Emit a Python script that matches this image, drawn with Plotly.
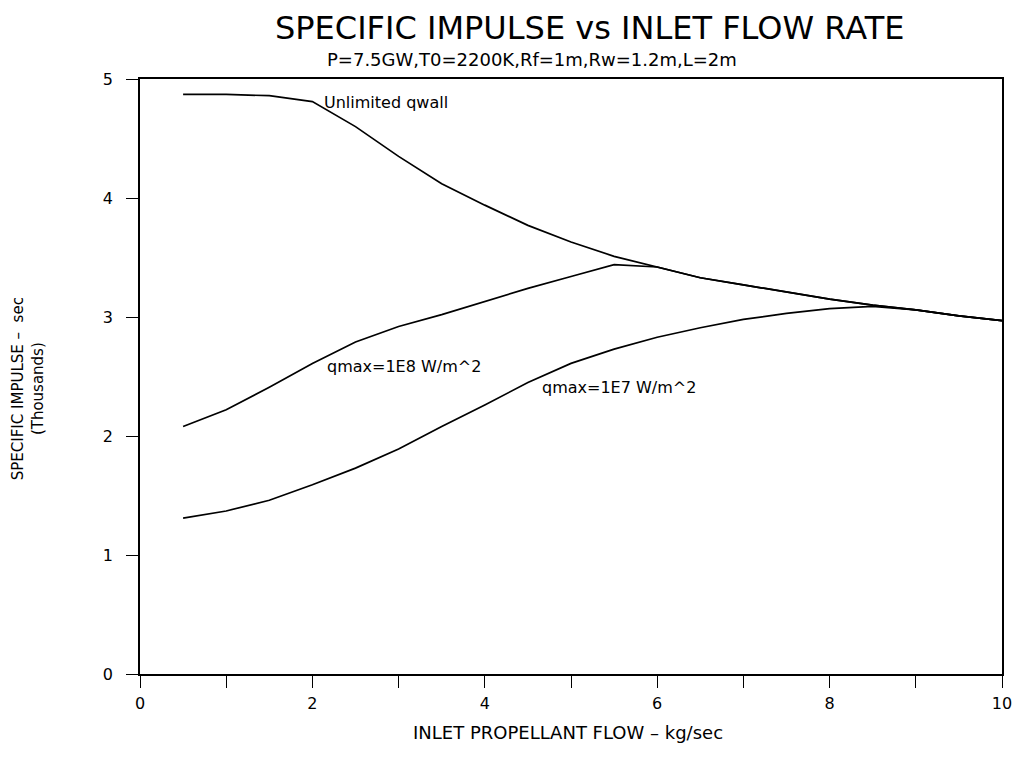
import plotly.graph_objects as go

# Data
flow = [0.5, 1.0, 1.5, 2.0, 2.5, 3.0, 3.5, 4.0, 4.5, 5.0, 5.5, 6.0, 6.5, 7.0, 7.5, 8.0, 8.5, 9.0, 9.5, 10.0]
isp_unlimited = [4.87, 4.87, 4.86, 4.81, 4.60, 4.35, 4.12, 3.94, 3.77, 3.63, 3.51, 3.42, 3.33, 3.27, 3.21, 3.15, 3.10, 3.06, 3.01, 2.97]
isp_q1e8 = [2.08, 2.22, 2.41, 2.61, 2.79, 2.92, 3.02, 3.13, 3.24, 3.34, 3.44, 3.42, 3.33, 3.27, 3.21, 3.15, 3.10, 3.06, 3.01, 2.97]
isp_q1e7 = [1.31, 1.37, 1.46, 1.59, 1.73, 1.89, 2.08, 2.26, 2.45, 2.61, 2.73, 2.83, 2.91, 2.98, 3.03, 3.07, 3.09, 3.06, 3.01, 2.97]

series_names = ["Unlimited qwall", "qmax=1E8 W/m^2", "qmax=1E7 W/m^2"]
label_x = [2.11, 2.15, 4.64]
label_y = [4.80, 2.58, 2.41]

x_tickvals = [0, 1, 2, 3, 4, 5, 6, 7, 8, 9, 10]
x_ticktext = ["0", "", "2", "", "4", "", "6", "", "8", "", "10"]
y_tickvals = [0, 1, 2, 3, 4, 5]
y_ticktext = ["0", "1", "2", "3", "4", "5"]

title_text = "SPECIFIC IMPULSE vs INLET FLOW RATE"
subtitle_text = "P=7.5GW,T0=2200K,Rf=1m,Rw=1.2m,L=2m"
x_title = "INLET PROPELLANT FLOW \u2013 kg/sec"
y_title = "SPECIFIC IMPULSE \u2013  sec<br>(Thousands)"

FONT = "DejaVu Sans"
line_style = dict(color="black", width=1.7)

fig = go.Figure()
for ys, name in zip([isp_unlimited, isp_q1e8, isp_q1e7], series_names):
    fig.add_trace(go.Scatter(x=flow, y=ys, mode="lines", line=line_style, name=name, showlegend=False))

for name, lx, ly in zip(series_names, label_x, label_y):
    fig.add_annotation(x=lx, y=ly, xref="x", yref="y", text=name, showarrow=False,
                       xanchor="left", yanchor="middle", font=dict(family=FONT, size=16, color="black"))

# plot area on screen: x 140..1002, y 79..674 (page has an 8px body offset)
fig.add_annotation(x=0.522, y=1.1193, xref="paper", yref="paper", text=title_text, showarrow=False,
                   xanchor="center", yanchor="top", borderpad=0,
                   font=dict(family=FONT, size=32, color="black"))
fig.add_annotation(x=0.455, y=1.0336, xref="paper", yref="paper", text=subtitle_text, showarrow=False,
                   xanchor="center", yanchor="middle", borderpad=0,
                   font=dict(family=FONT, size=18, color="black"))
fig.add_annotation(x=-0.129, y=0.48, xref="paper", yref="paper", text=y_title, showarrow=False,
                   textangle=-90, xanchor="center", yanchor="middle",
                   font=dict(family=FONT, size=15, color="black"))
fig.add_annotation(x=0.497, y=-0.099, xref="paper", yref="paper", text=x_title, showarrow=False,
                   xanchor="center", yanchor="middle", font=dict(family=FONT, size=18, color="black"))

fig.update_layout(
    width=1014, height=744,
    margin=dict(l=132, r=20, t=71, b=78),
    paper_bgcolor="white", plot_bgcolor="white",
    font=dict(family=FONT, size=16, color="black"),
    showlegend=False,
)
fig.update_xaxes(range=[0, 10], tickvals=x_tickvals, ticktext=x_ticktext, ticks="outside", ticklen=12,
                 tickwidth=1.2, tickcolor="black", showline=True, linecolor="black", linewidth=1.5,
                 mirror=True, showgrid=False, zeroline=False, tickfont=dict(size=16),
                 ticklabelstandoff=2, automargin=False)
fig.update_yaxes(range=[0, 5], tickvals=y_tickvals, ticktext=y_ticktext, ticks="outside", ticklen=12,
                 tickwidth=1.2, tickcolor="black", showline=True, linecolor="black", linewidth=1.5,
                 mirror=True, showgrid=False, zeroline=False, tickfont=dict(size=16),
                 ticklabelstandoff=10, automargin=False)

fig.write_html("out.html")
